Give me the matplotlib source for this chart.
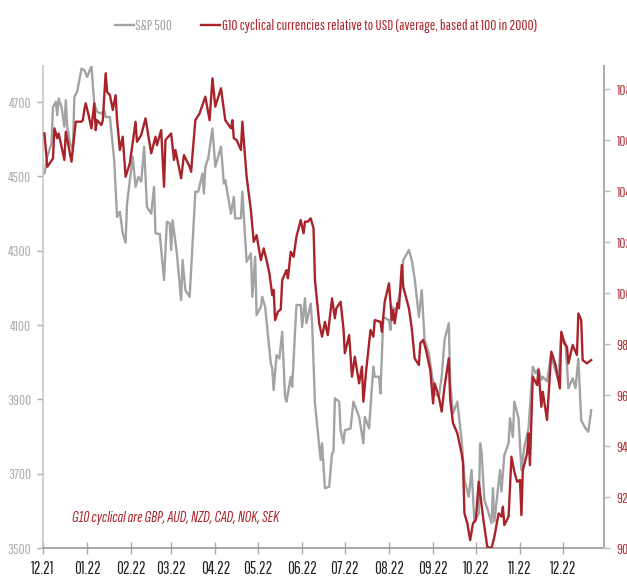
import numpy as np
import pandas as pd
import matplotlib
matplotlib.use("Agg")
from matplotlib import pyplot as plt
import matplotlib.dates as mdates

plt.rcParams['font.family'] = ['Pathway Gothic One', 'Saira Extra Condensed', 'Roboto Condensed', 'DejaVu Sans']

# S&P 500
sp_dates = ["2021-12-02", "2021-12-04", "2021-12-07", "2021-12-08", "2021-12-10", "2021-12-11",
            "2021-12-12", "2021-12-14", "2021-12-16", "2021-12-17", "2021-12-18", "2021-12-20",
            "2021-12-22", "2021-12-23", "2021-12-25", "2021-12-28", "2021-12-30", "2022-01-01",
            "2022-01-04", "2022-01-06", "2022-01-08", "2022-01-11", "2022-01-13", "2022-01-14",
            "2022-01-17", "2022-01-20", "2022-01-22", "2022-01-24", "2022-01-26", "2022-01-28",
            "2022-01-29", "2022-02-02", "2022-02-04", "2022-02-06", "2022-02-08", "2022-02-10",
            "2022-02-12", "2022-02-15", "2022-02-17", "2022-02-18", "2022-02-21", "2022-02-24",
            "2022-02-26", "2022-02-28", "2022-03-01", "2022-03-02", "2022-03-05", "2022-03-08",
            "2022-03-09", "2022-03-11", "2022-03-14", "2022-03-18", "2022-03-20", "2022-03-23",
            "2022-03-24", "2022-03-25", "2022-03-27", "2022-03-30", "2022-04-01", "2022-04-05",
            "2022-04-07", "2022-04-08", "2022-04-12", "2022-04-14", "2022-04-15", "2022-04-19",
            "2022-04-20", "2022-04-23", "2022-04-26", "2022-04-27", "2022-04-29", "2022-04-30",
            "2022-05-03", "2022-05-04", "2022-05-06", "2022-05-10", "2022-05-11", "2022-05-12",
            "2022-05-14", "2022-05-16", "2022-05-18", "2022-05-20", "2022-05-21", "2022-05-24",
            "2022-05-25", "2022-05-28", "2022-05-31", "2022-06-01", "2022-06-03", "2022-06-04",
            "2022-06-07", "2022-06-08", "2022-06-10", "2022-06-14", "2022-06-15", "2022-06-17",
            "2022-06-20", "2022-06-22", "2022-06-23", "2022-06-24", "2022-06-27", "2022-06-28",
            "2022-06-30", "2022-07-01", "2022-07-05", "2022-07-07", "2022-07-11", "2022-07-14",
            "2022-07-15", "2022-07-18", "2022-07-21", "2022-07-22", "2022-07-25", "2022-07-26",
            "2022-07-28", "2022-08-01", "2022-08-02", "2022-08-03", "2022-08-06", "2022-08-10",
            "2022-08-11", "2022-08-15", "2022-08-17", "2022-08-19", "2022-08-22", "2022-08-24",
            "2022-08-26", "2022-08-29", "2022-09-02", "2022-09-05", "2022-09-07", "2022-09-09",
            "2022-09-12", "2022-09-13", "2022-09-15", "2022-09-18", "2022-09-21", "2022-09-23",
            "2022-09-26", "2022-09-28", "2022-09-30", "2022-10-03", "2022-10-04", "2022-10-05",
            "2022-10-07", "2022-10-09", "2022-10-12", "2022-10-13", "2022-10-14", "2022-10-18",
            "2022-10-19", "2022-10-21", "2022-10-24", "2022-10-25", "2022-10-27", "2022-10-28",
            "2022-10-31", "2022-11-02", "2022-11-04", "2022-11-07", "2022-11-10", "2022-11-12",
            "2022-11-14", "2022-11-16", "2022-11-17", "2022-11-20", "2022-11-23", "2022-11-25",
            "2022-11-28", "2022-11-30", "2022-12-03", "2022-12-05", "2022-12-08", "2022-12-10",
            "2022-12-12", "2022-12-14", "2022-12-17", "2022-12-19", "2022-12-21"]
sp_values = [4508, 4553, 4590, 4687, 4701, 4665,
             4710, 4687, 4634, 4705, 4634, 4589,
             4571, 4714, 4728, 4790, 4786, 4768,
             4797, 4696, 4674, 4669, 4678, 4660,
             4660, 4544, 4391, 4405, 4347, 4322,
             4427, 4553, 4472, 4499, 4486, 4580,
             4418, 4400, 4472, 4347, 4345, 4221,
             4378, 4374, 4302, 4382, 4293, 4167,
             4275, 4194, 4176, 4459, 4459, 4508,
             4454, 4526, 4548, 4629, 4526, 4580,
             4481, 4490, 4400, 4445, 4387, 4387,
             4459, 4270, 4293, 4176, 4284, 4127,
             4149, 4176, 4149, 3997, 3983, 3925,
             4019, 4010, 4082, 3907, 3894, 3961,
             3934, 4154, 4154, 4095, 4172, 4105,
             4158, 4105, 3889, 3737, 3782, 3661,
             3665, 3755, 3759, 3903, 3894, 3817,
             3782, 3817, 3822, 3894, 3853, 3782,
             3853, 3822, 3988, 3961, 3961, 3916,
             4122, 4113, 4087, 4149, 4140, 4208,
             4275, 4302, 4275, 4226, 4122, 4194,
             4060, 4024, 3916, 3907, 3961, 4060,
             4105, 3943, 3862, 3894, 3791, 3683,
             3638, 3710, 3571, 3593, 3782, 3759,
             3629, 3607, 3567, 3661, 3571, 3710,
             3652, 3750, 3782, 3849, 3799, 3894,
             3849, 3710, 3772, 3822, 3988, 3970,
             3983, 3952, 3961, 3948, 4024, 3988,
             3952, 4078, 4051, 3930, 3957, 3930,
             4010, 3844, 3822, 3813, 3871]

# G10 cyclical currencies vs USD
fx_dates = ["2021-12-02", "2021-12-04", "2021-12-08", "2021-12-09", "2021-12-11", "2021-12-12",
            "2021-12-16", "2021-12-17", "2021-12-21", "2021-12-24", "2021-12-28", "2021-12-29",
            "2021-12-30", "2021-12-31", "2022-01-02", "2022-01-04", "2022-01-06", "2022-01-07",
            "2022-01-08", "2022-01-11", "2022-01-12", "2022-01-14", "2022-01-15", "2022-01-17",
            "2022-01-19", "2022-01-21", "2022-01-22", "2022-01-24", "2022-01-26", "2022-01-28",
            "2022-01-31", "2022-02-04", "2022-02-05", "2022-02-08", "2022-02-11", "2022-02-15",
            "2022-02-18", "2022-02-19", "2022-02-22", "2022-02-24", "2022-02-25", "2022-03-01",
            "2022-03-03", "2022-03-04", "2022-03-08", "2022-03-10", "2022-03-14", "2022-03-15",
            "2022-03-18", "2022-03-21", "2022-03-25", "2022-03-28", "2022-03-30", "2022-04-01",
            "2022-04-05", "2022-04-08", "2022-04-12", "2022-04-13", "2022-04-14", "2022-04-16",
            "2022-04-19", "2022-04-20", "2022-04-23", "2022-04-26", "2022-04-28", "2022-04-30",
            "2022-05-03", "2022-05-05", "2022-05-07", "2022-05-09", "2022-05-11", "2022-05-12",
            "2022-05-13", "2022-05-15", "2022-05-17", "2022-05-18", "2022-05-21", "2022-05-22",
            "2022-05-24", "2022-05-26", "2022-05-28", "2022-05-31", "2022-06-02", "2022-06-03",
            "2022-06-05", "2022-06-07", "2022-06-09", "2022-06-10", "2022-06-13", "2022-06-15",
            "2022-06-17", "2022-06-19", "2022-06-22", "2022-06-24", "2022-06-25", "2022-06-28",
            "2022-06-30", "2022-07-01", "2022-07-04", "2022-07-06", "2022-07-08", "2022-07-11",
            "2022-07-13", "2022-07-14", "2022-07-16", "2022-07-19", "2022-07-21", "2022-07-22",
            "2022-07-26", "2022-07-27", "2022-07-29", "2022-08-01", "2022-08-03", "2022-08-04",
            "2022-08-05", "2022-08-07", "2022-08-08", "2022-08-10", "2022-08-11", "2022-08-15",
            "2022-08-17", "2022-08-19", "2022-08-22", "2022-08-23", "2022-08-25", "2022-08-27",
            "2022-08-30", "2022-09-01", "2022-09-02", "2022-09-05", "2022-09-07", "2022-09-09",
            "2022-09-12", "2022-09-13", "2022-09-15", "2022-09-18", "2022-09-21", "2022-09-22",
            "2022-09-23", "2022-09-25", "2022-09-27", "2022-09-29", "2022-10-01", "2022-10-03",
            "2022-10-06", "2022-10-09", "2022-10-12", "2022-10-14", "2022-10-17", "2022-10-19",
            "2022-10-20", "2022-10-21", "2022-10-24", "2022-10-26", "2022-10-28", "2022-10-30",
            "2022-11-01", "2022-11-02", "2022-11-03", "2022-11-06", "2022-11-07", "2022-11-08",
            "2022-11-10", "2022-11-13", "2022-11-14", "2022-11-16", "2022-11-17", "2022-11-20",
            "2022-11-23", "2022-11-26", "2022-11-29", "2022-11-30", "2022-12-02", "2022-12-04",
            "2022-12-05", "2022-12-08", "2022-12-11", "2022-12-12", "2022-12-14", "2022-12-15",
            "2022-12-18", "2022-12-21"]
fx_values = [106.26, 104.95, 105.28, 106.46, 106.07, 106.26,
             105.22, 106.33, 105.15, 106.72, 106.72, 106.78,
             107.18, 107.44, 106.98, 106.46, 107.44, 106.39,
             106.78, 106.59, 106.78, 108.62, 107.89, 107.76,
             107.18, 107.76, 106.78, 105.61, 106.13, 104.56,
             105.09, 106.72, 105.93, 106.20, 106.85, 105.48,
             106.13, 105.80, 106.39, 104.17, 106.00, 106.26,
             105.22, 105.61, 104.50, 105.41, 104.95, 104.76,
             106.78, 107.05, 107.70, 106.78, 108.42, 107.31,
             108.03, 106.78, 106.46, 106.78, 106.07, 106.00,
             105.61, 106.72, 104.56, 103.25, 102.01, 102.27,
             101.29, 101.75, 101.29, 100.77, 99.92, 100.12,
             98.94, 99.27, 99.36, 100.51, 100.90, 100.58,
             101.62, 101.42, 102.21, 102.86, 102.34, 102.80,
             102.80, 102.93, 102.54, 100.51, 98.81, 98.29,
             98.87, 98.35, 99.79, 99.01, 99.40, 99.66,
             98.62, 97.64, 98.35, 96.72, 97.50, 96.46,
             97.11, 95.74, 96.98, 98.55, 98.29, 98.94,
             98.87, 98.48, 99.66, 100.38, 98.94, 99.33,
             98.81, 99.60, 99.40, 101.10, 100.25, 99.40,
             98.62, 97.44, 97.18, 98.03, 98.16, 97.76,
             96.98, 95.67, 96.46, 95.93, 95.35, 96.33,
             97.44, 95.80, 94.89, 94.50, 93.71, 93.32,
             91.36, 90.97, 90.31, 90.97, 91.10, 92.60,
             91.23, 90.05, 89.99, 90.44, 91.36, 91.23,
             91.62, 90.90, 91.23, 93.58, 93.00, 92.60,
             92.67, 91.29, 93.06, 93.71, 94.50, 93.25,
             96.72, 96.39, 96.98, 95.54, 96.13, 95.02,
             97.70, 97.18, 96.26, 98.48, 98.03, 97.89,
             97.24, 97.96, 97.57, 99.20, 98.94, 97.37,
             97.24, 97.37]

month_ticks = pd.date_range("2021-12-01", "2022-12-01", freq="MS")
left_ticks = [3500, 3700, 3900, 4100, 4300, 4500, 4700]
right_ticks = [90, 92, 94, 96, 98, 100, 102, 104, 106, 108]

gray = '#a3a3a3'
red = '#a8232a'

fig = plt.figure(figsize=(6.27, 5.85), dpi=100)
ax = fig.add_axes([0.0686, 0.0632, 0.8947, 0.8238])
ax2 = ax.twinx()

l1, = ax.plot(pd.to_datetime(sp_dates), sp_values, color=gray, lw=1.7, label='S&P 500')
l2, = ax2.plot(pd.to_datetime(fx_dates), fx_values, color=red, lw=1.7,
               label='G10 cyclical currencies relative to USD (average, based at 100 in 2000)')

ax.set_xlim(pd.Timestamp("2021-12-01"), pd.Timestamp("2022-12-30"))
ax.set_ylim(3500, 4797)
ax2.set_ylim(90, 108.9)
ax.set_yticks(left_ticks)
ax2.set_yticks(right_ticks)
ax.set_xticks(month_ticks)
ax.xaxis.set_major_formatter(mdates.DateFormatter('%m.%y'))

for a in (ax, ax2):
    a.spines['top'].set_visible(False)
ax.spines['left'].set_color('#c8c8c8')
ax2.spines['right'].set_color('#c8c8c8')
ax.spines['bottom'].set_color('#999999')
ax2.spines['left'].set_visible(False)
ax2.spines['bottom'].set_visible(False)
for a in (ax, ax2):
    for s in a.spines.values():
        s.set_linewidth(1.2)

ax.tick_params(axis='y', colors='#aaaaaa', labelcolor='#adadad', labelsize=10.5, length=4, width=1, pad=4.5)
ax2.tick_params(axis='y', colors='#bbbbbb', labelcolor='#b03038', labelsize=10.5, length=4, width=1, pad=5)
ax.tick_params(axis='x', direction='inout', length=9, width=1, colors='#aaaaaa',
               labelcolor='#222222', labelsize=12, pad=5)

leg = fig.legend(handles=[l1, l2], loc='upper center', bbox_to_anchor=(0.52, 0.99), ncol=2,
                 frameon=False, fontsize=10.5, handlelength=1.3, handletextpad=0.1,
                 columnspacing=2.0, borderaxespad=0.5)
for t, c in zip(leg.get_texts(), [gray, red]):
    t.set_color(c)

ax.text(0.052, 0.053, 'G10 cyclical are GBP, AUD, NZD, CAD, NOK, SEK', transform=ax.transAxes,
        color=red, fontsize=12, style='italic',
        family=['Sofia Sans Extra Condensed', 'Fira Sans Extra Condensed', 'Barlow Condensed', 'DejaVu Sans'])

fig.savefig('out.png', dpi=100)
